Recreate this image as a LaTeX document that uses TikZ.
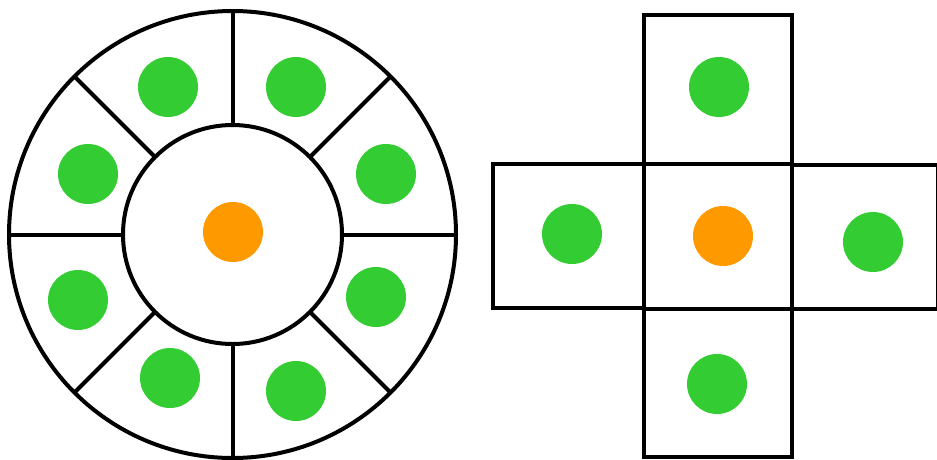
\documentclass[tikz,border=0pt]{standalone}
\usetikzlibrary{calc}
\definecolor{dotgreen}{RGB}{51,204,51}
\definecolor{dotorange}{RGB}{255,153,0}
\begin{document}
\begin{tikzpicture}[x=1pt,y=-1pt,
  wall/.style={draw=black,line width=4pt},
  gdot/.style={circle,fill=dotgreen,minimum size=60pt,inner sep=0pt},
  odot/.style={circle,fill=dotorange,minimum size=60pt,inner sep=0pt}]
\useasboundingbox (0,0) rectangle (937,459);
% left: ring
\coordinate (c) at (232.5,234.5);
\draw[wall] (c) circle (223.5);
\draw[wall] (c) circle (109.5);
\foreach \a in {0,45,...,315}{
  \draw[wall] ($(c)+(\a:109.5)$) -- ($(c)+(\a:223.5)$);
}
\node[gdot] (g1) at (168,87) {};
\node[gdot] (g2) at (296,87) {};
\node[gdot] (g3) at (88,174) {};
\node[gdot] (g4) at (386,174) {};
\node[gdot] (g5) at (78,300) {};
\node[gdot] (g6) at (376,297) {};
\node[gdot] (g7) at (170,378) {};
\node[gdot] (g8) at (296,391) {};
\node[odot] (o1) at (233,232) {};
% right: cross
\draw[wall] (644,15) rectangle (792,164);
\draw[wall] (493,164) rectangle (644,308);
\draw[wall] (792,165) rectangle (938,309);
\draw[wall] (644,164) rectangle (792,309);
\draw[wall] (644,309) rectangle (792,457);
\node[gdot] (h1) at (719,87) {};
\node[gdot] (h2) at (572,234) {};
\node[odot] (o2) at (723,236) {};
\node[gdot] (h3) at (873,242) {};
\node[gdot] (h4) at (717,384) {};
\end{tikzpicture}
\end{document}
